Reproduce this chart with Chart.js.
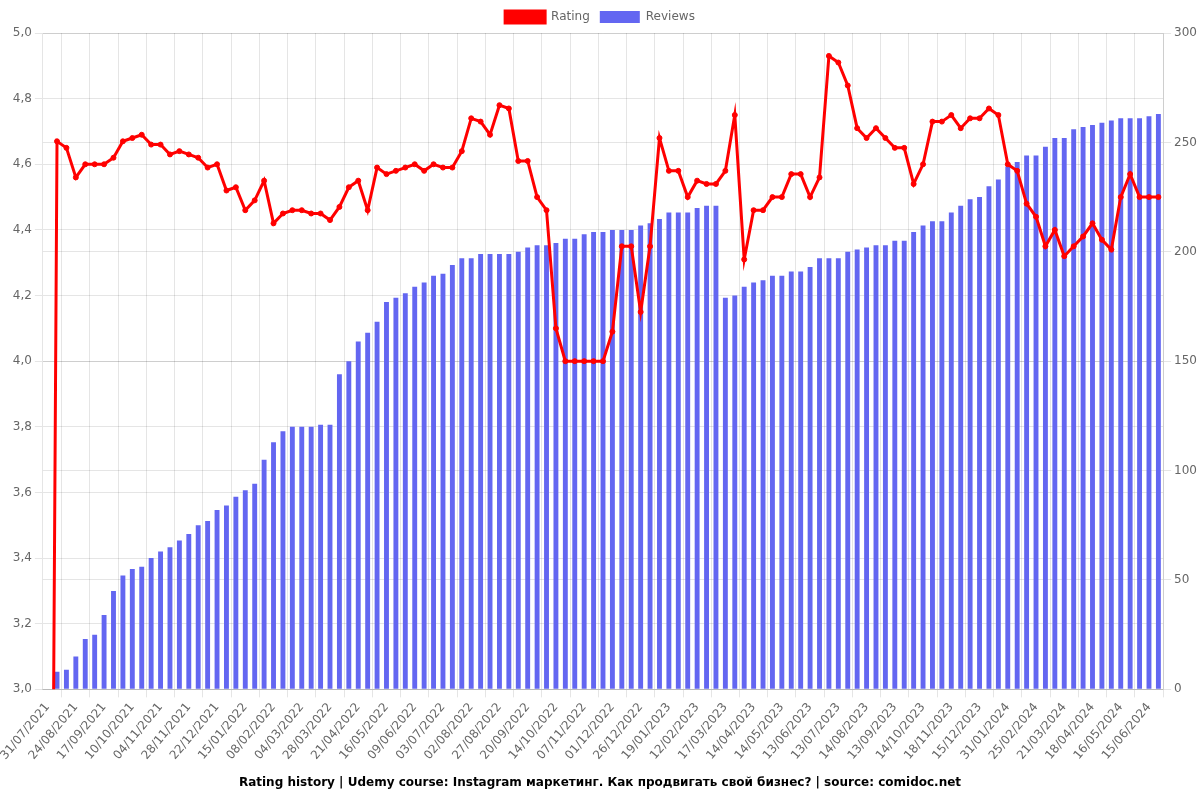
<!DOCTYPE html>
<html>
<head>
<meta charset="utf-8">
<script src="https://cdn.jsdelivr.net/npm/chart.js@4"></script>
<style>
  html, body { margin: 0; padding: 0; background: #fff; }
  #wrap { width: 1200px; height: 800px; }
</style>
</head>
<body>
<div id="wrap"><canvas id="chart"></canvas></div>
<script>
const dates = [
  "31/07/2021", "08/08/2021", "16/08/2021", "24/08/2021", "01/09/2021", "09/09/2021",
  "17/09/2021", "25/09/2021", "02/10/2021", "10/10/2021", "18/10/2021", "27/10/2021",
  "04/11/2021", "12/11/2021", "20/11/2021", "28/11/2021", "06/12/2021", "14/12/2021",
  "22/12/2021", "30/12/2021", "07/01/2022", "15/01/2022", "23/01/2022", "31/01/2022",
  "08/02/2022", "16/02/2022", "24/02/2022", "04/03/2022", "12/03/2022", "20/03/2022",
  "28/03/2022", "05/04/2022", "13/04/2022", "21/04/2022", "29/04/2022", "08/05/2022",
  "16/05/2022", "24/05/2022", "01/06/2022", "09/06/2022", "17/06/2022", "25/06/2022",
  "03/07/2022", "13/07/2022", "23/07/2022", "02/08/2022", "10/08/2022", "18/08/2022",
  "27/08/2022", "04/09/2022", "12/09/2022", "20/09/2022", "28/09/2022", "06/10/2022",
  "14/10/2022", "22/10/2022", "30/10/2022", "07/11/2022", "15/11/2022", "23/11/2022",
  "01/12/2022", "09/12/2022", "17/12/2022", "26/12/2022", "03/01/2023", "11/01/2023",
  "19/01/2023", "27/01/2023", "04/02/2023", "12/02/2023", "23/02/2023", "06/03/2023",
  "17/03/2023", "26/03/2023", "05/04/2023", "14/04/2023", "24/04/2023", "04/05/2023",
  "14/05/2023", "24/05/2023", "03/06/2023", "13/06/2023", "23/06/2023", "03/07/2023",
  "13/07/2023", "24/07/2023", "04/08/2023", "14/08/2023", "24/08/2023", "03/09/2023",
  "13/09/2023", "23/09/2023", "04/10/2023", "14/10/2023", "26/10/2023", "07/11/2023",
  "18/11/2023", "27/11/2023", "06/12/2023", "15/12/2023", "30/12/2023", "15/01/2024",
  "31/01/2024", "08/02/2024", "17/02/2024", "25/02/2024", "04/03/2024", "12/03/2024",
  "21/03/2024", "30/03/2024", "09/04/2024", "18/04/2024", "28/04/2024", "07/05/2024",
  "16/05/2024", "26/05/2024", "05/06/2024", "15/06/2024", "25/06/2024"
];

const rating = [
  0, 4.67, 4.65, 4.56, 4.60, 4.60, 4.60, 4.62, 4.67, 4.68,
  4.69, 4.66, 4.66, 4.63, 4.64, 4.63, 4.62, 4.59, 4.60, 4.52,
  4.53, 4.46, 4.49, 4.55, 4.42, 4.45, 4.46, 4.46, 4.45, 4.45,
  4.43, 4.47, 4.53, 4.55, 4.46, 4.59, 4.57, 4.58, 4.59, 4.60,
  4.58, 4.60, 4.59, 4.59, 4.64, 4.74, 4.73, 4.69, 4.78, 4.77,
  4.61, 4.61, 4.50, 4.46, 4.10, 4.00, 4.00, 4.00, 4.00, 4.00,
  4.09, 4.35, 4.35, 4.15, 4.35, 4.68, 4.58, 4.58, 4.50, 4.55,
  4.54, 4.54, 4.58, 4.75, 4.31, 4.46, 4.46, 4.50, 4.50, 4.57,
  4.57, 4.50, 4.56, 4.93, 4.91, 4.84, 4.71, 4.68, 4.71, 4.68,
  4.65, 4.65, 4.54, 4.60, 4.73, 4.73, 4.75, 4.71, 4.74, 4.74,
  4.77, 4.75, 4.60, 4.58, 4.48, 4.44, 4.35, 4.40, 4.32, 4.35,
  4.38, 4.42, 4.37, 4.34, 4.50, 4.57, 4.50, 4.50, 4.50
];

const reviews = [
  0, 8, 9, 15, 23, 25, 34, 45, 52, 55,
  56, 60, 63, 65, 68, 71, 75, 77, 82, 84,
  88, 91, 94, 105, 113, 118, 120, 120, 120, 121,
  121, 144, 150, 159, 163, 168, 177, 179, 181, 184,
  186, 189, 190, 194, 197, 197, 199, 199, 199, 199,
  200, 202, 203, 203, 204, 206, 206, 208, 209, 209,
  210, 210, 210, 212, 213, 215, 218, 218, 218, 220,
  221, 221, 179, 180, 184, 186, 187, 189, 189, 191,
  191, 193, 197, 197, 197, 200, 201, 202, 203, 203,
  205, 205, 209, 212, 214, 214, 218, 221, 224, 225,
  230, 233, 239, 241, 244, 244, 248, 252, 252, 256,
  257, 258, 259, 260, 261, 261, 261, 262, 263
];

const titleText = "Rating history | Udemy course: Instagram маркетинг. Как продвигать свой бизнес? | source: comidoc.net";

Chart.defaults.font.family = "'DejaVu Sans', sans-serif";
Chart.defaults.color = "#666";

new Chart(document.getElementById("chart"), {
  type: "bar",
  data: {
    labels: dates,
    datasets: [
      {
        type: "line",
        label: "Rating",
        data: rating,
        yAxisID: "y",
        borderColor: "#ff0000",
        backgroundColor: "#ff0000",
        borderWidth: 3,
        pointRadius: 2.5,
        pointBorderWidth: 1,
        pointBackgroundColor: "#ff0000",
        pointBorderColor: "#ff0000",
        tension: 0
      },
      {
        type: "bar",
        label: "Reviews",
        data: reviews,
        yAxisID: "y1",
        backgroundColor: "#6366f1",
        categoryPercentage: 0.8,
        barPercentage: 0.65
      }
    ]
  },
  options: {
    responsive: true,
    maintainAspectRatio: false,
    animation: false,
    locale: "de-DE",
    layout: {
      padding: { top: 1 }
    },
    plugins: {
      legend: {
        position: "top"
      },
      title: {
        display: true,
        position: "bottom",
        text: titleText,
        color: "#000",
        font: { size: 12, weight: "bold" }
      }
    },
    scales: {
      x: {},
      y: {
        position: "left",
        min: 3,
        max: 5,
        ticks: { stepSize: 0.2 }
      },
      y1: {
        position: "right",
        min: 0,
        max: 300,
        ticks: { stepSize: 50 }
      }
    }
  }
});
</script>
</body>
</html>
